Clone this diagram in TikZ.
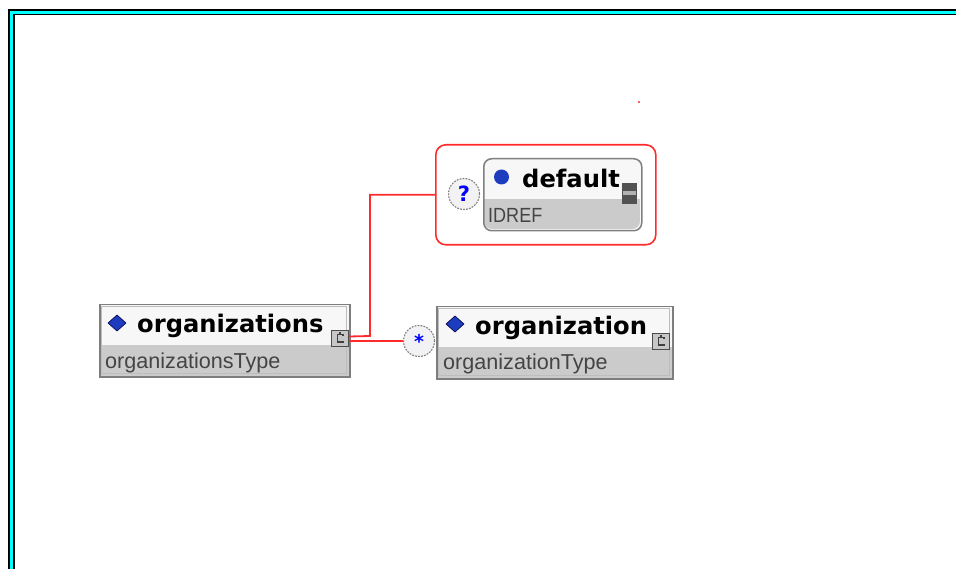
\documentclass[tikz,border=0pt]{standalone}
\usepackage{fontspec}
\setmainfont{Liberation Sans}
\newfontfamily\titlef{DejaVu Sans}
\usetikzlibrary{calc}
\definecolor{bandgray}{HTML}{CBCBCB}
\definecolor{headgray}{HTML}{F7F7F7}
\definecolor{edgegray}{HTML}{7E7E7E}
\definecolor{inedge}{HTML}{BDBDBD}
\definecolor{iconblue}{HTML}{1D3DBE}
\definecolor{xsred}{HTML}{FF2B2B}
\definecolor{frcyan}{HTML}{00FFFF}
\definecolor{typegray}{HTML}{444444}
\definecolor{occfill}{HTML}{F2F2F4}
\begin{document}
\begin{tikzpicture}[x=1pt,y=-1pt,
  elemframe/.style={draw=edgegray,line width=1.5pt,fill=none,inner sep=0pt,anchor=north west},
  titletext/.style={anchor=base west,inner sep=0pt,font=\titlef\bfseries\fontsize{24.2}{28}\selectfont},
  typetext/.style={anchor=base west,inner sep=0pt,text=typegray,font=\fontsize{21.6}{26}\selectfont},
  cicon/.style={draw=black!70,fill=black!22,line width=1pt,minimum width=17pt,minimum height=16pt,inner sep=0pt,anchor=north west},
  occur/.style={circle,draw=black!50,dash pattern=on 1.8pt off 1.2pt,line width=1.1pt,fill=occfill,minimum size=31pt,inner sep=0pt,text=blue,font=\titlef\bfseries\fontsize{21}{22}\selectfont},
  redline/.style={draw=xsred,line width=1.8pt}]
\useasboundingbox (0,0) rectangle (956,569);
\clip (0,0) rectangle (956,569);
\fill[white] (0,0) rectangle (956,569);
% window frame
\draw[black,line width=6.5pt] (11.5,12) rectangle (1100,800);
\draw[frcyan,line width=3pt] (11.5,12.5) rectangle (1100,800);
% speck
\fill[xsred!75] (638,101) rectangle (640,103);

% ---- organizations element
\fill[headgray] (99,304) rectangle (349,345);
\fill[bandgray] (99,345) rectangle (349,376);
\draw[inedge,line width=1pt] (101.5,306.5) rectangle (346.5,373.5);
\node[elemframe,minimum width=250pt,minimum height=72pt] (orgs) at (99,304) {};
\fill[iconblue,draw=blue!30!black,line width=0.6pt] (117,315)--(126,323)--(117,331)--(108,323)--cycle;
\node[titletext] (orgsname) at (137,333) {organizations};
\node[typetext] (orgstype) at (105,369) {organizationsType};
\node[cicon] (orgsc) at (331,330) {};
\draw[black!75,line width=1.2pt] (343,334.5) -- (337.5,334.5) -- (337.5,342) -- (344,342);
\draw[black!75,line width=1.2pt] (340,332.5) -- (340,334.5) (343,334.5) -- (343,336.5);

% ---- organization element
\fill[headgray] (436,306) rectangle (672,347);
\fill[bandgray] (436,347) rectangle (672,378);
\draw[inedge,line width=1pt] (438.5,308.5) rectangle (669.5,375.5);
\node[elemframe,minimum width=236pt,minimum height=72pt] (org) at (436,306) {};
\fill[iconblue,draw=blue!30!black,line width=0.6pt] (455,316)--(464,324)--(455,332)--(446,324)--cycle;
\node[titletext] (orgname) at (475,335) {organization};
\node[typetext] (orgtype) at (443,370) {organizationType};
\node[cicon] (orgc) at (652,333) {};
\draw[black!75,line width=1.2pt] (664,337.5) -- (658.5,337.5) -- (658.5,345) -- (665,345);
\draw[black!75,line width=1.2pt] (661,335.5) -- (661,337.5) (664,337.5) -- (664,339.5);

% ---- choice group (red frame)
\node[draw=xsred,line width=1.6pt,rounded corners=10pt,minimum width=220pt,minimum height=100pt,inner sep=0pt,anchor=north west] (choice) at (435,144) {};

% ---- default attribute
\fill[headgray,rounded corners=8pt] (483,158) rectangle (641,230);
\begin{scope}
  \clip[rounded corners=8pt] (484,159) rectangle (640,229);
  \fill[bandgray] (484,199) rectangle (640,230);
\end{scope}
\node[draw=black!50,line width=1.5pt,rounded corners=8pt,minimum width=158pt,minimum height=72pt,inner sep=0pt,anchor=north west] (dflt) at (483,158) {};
\fill[iconblue] (501.5,177) circle (7.5pt);
\node[titletext] (dfltname) at (522,188) {default};
\node[typetext,font=\fontsize{20.5}{24}\selectfont] (dflttype) at (488,223) {\scalebox{0.88}[1]{IDREF}};
\node[fill=black!68,minimum width=15pt,minimum height=21pt,inner sep=0pt,anchor=north west] (dfltminus) at (622,183) {};
\fill[black!30] (623,191.5) rectangle (636,195);

% ---- occurrence markers
\node[occur] (opt) at (464,194) {?};
\node[occur,font=\titlef\bfseries\fontsize{19}{20}\selectfont] (star) at (419,341) {\raisebox{-2pt}{*}};

% ---- connectors
\coordinate (jn) at (370,336);
\draw[redline] ([yshift=2pt]orgsc.east) -- (jn) |- (choice.west);
\draw[redline] (orgsc.east |- star.west) -- (star.west);
\end{tikzpicture}
\end{document}
